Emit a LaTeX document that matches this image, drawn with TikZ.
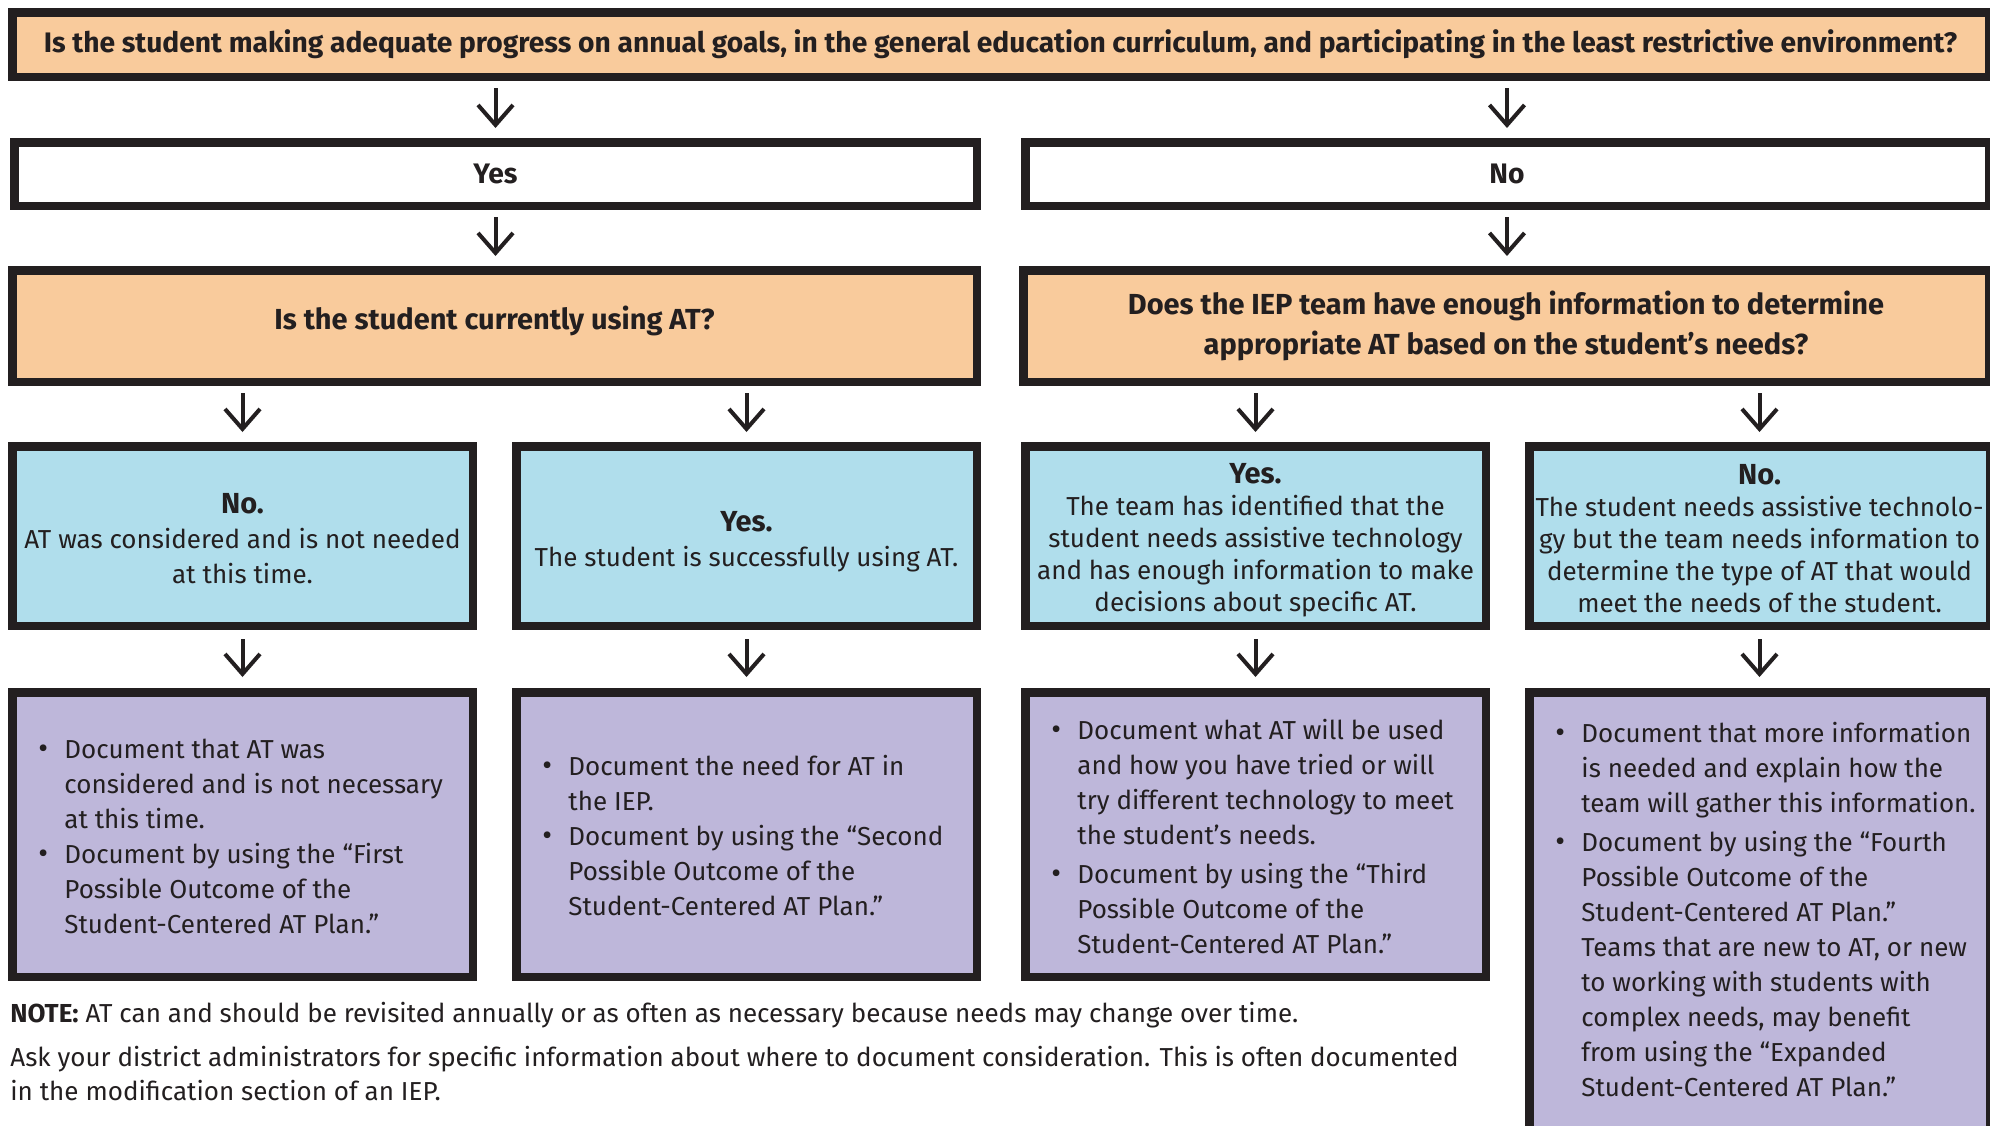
\documentclass[tikz,border=0pt]{standalone}
\usepackage{fontspec}
\setmainfont{Fira Sans}
\usetikzlibrary{arrows.meta}
\definecolor{peach}{HTML}{F9CB9C}
\definecolor{skyb}{HTML}{B0DEEC}
\definecolor{lav}{HTML}{BEB7DA}
\definecolor{ink}{HTML}{231F20}
\newcommand{\bul}{\makebox[13pt][l]{\fontsize{15pt}{15pt}\selectfont\textbullet}}
\newcommand{\hd}[1]{{\bfseries\fontsize{14.5pt}{17pt}\selectfont #1}}
\begin{document}
\begin{tikzpicture}[x=0.5pt,y=-0.5pt]
\tikzset{
  box/.style={draw=ink, line width=4.25pt, inner sep=0pt, align=center, text=ink},
  qbox/.style={box, fill=peach, font=\bfseries\fontsize{14.5pt}{20pt}\selectfont},
  ybox/.style={box, fill=white, font=\bfseries\fontsize{14.1pt}{20pt}\selectfont},
  bbox/.style={box, fill=skyb, minimum width=230.25pt, minimum height=89.75pt},
  btext/.style={inner sep=0pt, align=center, text=ink},
  pbox/.style={box, fill=lav, minimum width=230.25pt},
  ptext/.style={inner sep=0pt, anchor=west, align=left, text=ink, font=\fontsize{13pt}{17.5pt}\selectfont},
  arr/.style={draw=ink, line width=2pt, -{Straight Barb[length=10pt,width=17.5pt,line width=2pt]}},
  notetext/.style={inner sep=0pt, anchor=west, align=left, text=ink, font=\fontsize{13pt}{17pt}\selectfont}
}
\useasboundingbox (0,0) rectangle (1990,1125);
\fill[white] (0,0) rectangle (1990,1125);

\node[qbox, minimum width=988.25pt, minimum height=32.25pt, font=\bfseries\fontsize{14.1pt}{20pt}\selectfont] (top) at (1000.5,44.5)
  {Is the student making adequate progress on annual goals, in the general education curriculum, and participating in the least restrictive environment?};

\node[ybox, minimum width=481.25pt, minimum height=31.75pt] (yes) at (495.5,174) {Yes};
\node[ybox, minimum width=481.75pt, minimum height=31.75pt] (no) at (1507,174) {No};

\node[qbox, minimum width=482.25pt, minimum height=55.75pt] (ql) at (494.5,326) {};
\node[btext, font=\bfseries\fontsize{14.5pt}{20pt}\selectfont] (qlt) at ([yshift=2.5pt]ql.center)
  {Is the student currently using AT?};
\node[qbox, minimum width=482.75pt, minimum height=55.75pt] (qr) at (1506,326)
  {Does the IEP team have enough information to determine\\appropriate AT based on the student’s needs?};

\node[bbox] (b1) at (242.5,536) {};
\node[bbox] (b2) at (746.5,536) {};
\node[bbox] (b3) at (1255.5,536) {};
\node[bbox] (b4) at (1759.5,536) {};
\node[btext, font=\fontsize{13pt}{17.5pt}\selectfont] (b1t) at ([yshift=-1.5pt]b1.center)
  {\hd{No.}\\AT was considered and is not needed\\at this time.};
\node[btext, font=\fontsize{13pt}{17.5pt}\selectfont] (b2t) at ([yshift=-2.8pt]b2.center)
  {\hd{Yes.}\\The student is successfully using AT.};
\node[btext, font=\fontsize{13pt}{16pt}\selectfont] (b3t) at ([yshift=-2.2pt]b3.center)
  {\hd{Yes.}\\The team has identified that the\\student needs assistive technology\\and has enough information to make\\decisions about specific AT.};
\node[btext, font=\fontsize{13pt}{16pt}\selectfont] (b4t) at ([yshift=-1.3pt]b4.center)
  {\hd{No.}\\The student needs assistive technolo-\\gy but the team needs information to\\determine the type of AT that would\\meet the needs of the student.};

\node[pbox, minimum height=142.25pt] (p1) at (242.5,834.5) {};
\node[pbox, minimum height=142.25pt] (p2) at (746.5,834.5) {};
\node[pbox, minimum height=142.25pt] (p3) at (1255.5,834.5) {};
\node[pbox, minimum height=221.75pt] (p4) at (1759.5,914) {};

\node[ptext] (t1) at ([xshift=15pt,yshift=-2pt]p1.west) {%
\begin{tabular}{@{}l@{}l@{}}
\bul & Document that AT was\\
     & considered and is not necessary\\
     & at this time.\\
\bul & Document by using the “First\\
     & Possible Outcome of the\\
     & Student-Centered AT Plan.”
\end{tabular}};
\node[ptext] (t2) at ([xshift=15pt,yshift=-2pt]p2.west) {%
\begin{tabular}{@{}l@{}l@{}}
\bul & Document the need for AT in\\
     & the IEP.\\
\bul & Document by using the “Second\\
     & Possible Outcome of the\\
     & Student-Centered AT Plan.”
\end{tabular}};
\node[ptext] (t3) at ([xshift=15pt,yshift=-2.3pt]p3.west) {%
\begin{tabular}{@{}l@{}l@{}}
\bul & Document what AT will be used\\
     & and how you have tried or will\\
     & try different technology to meet\\
     & the student’s needs.\\[2pt]
\bul & Document by using the “Third\\
     & Possible Outcome of the\\
     & Student-Centered AT Plan.”
\end{tabular}};
\node[ptext] (t4) at ([xshift=15pt,yshift=1pt]p4.west) {%
\begin{tabular}{@{}l@{}l@{}}
\bul & Document that more information\\
     & is needed and explain how the\\
     & team will gather this information.\\[2pt]
\bul & Document by using the “Fourth\\
     & Possible Outcome of the\\
     & Student-Centered AT Plan.”\\
     & Teams that are new to AT, or new\\
     & to working with students with\\
     & complex needs, may benefit\\
     & from using the “Expanded\\
     & Student-Centered AT Plan.”
\end{tabular}};

\draw[arr, shorten <=3.5pt, shorten >=5pt] (top.south -| yes.north) -- (yes.north);
\draw[arr, shorten <=3.5pt, shorten >=5pt] (top.south -| no.north) -- (no.north);
\draw[arr, shorten <=3.5pt, shorten >=5pt] (yes.south) -- (yes.south |- ql.north);
\draw[arr, shorten <=3.5pt, shorten >=5pt] (no.south) -- (no.south |- qr.north);
\draw[arr, shorten <=3.5pt, shorten >=5pt] (ql.south -| b1.north) -- (b1.north);
\draw[arr, shorten <=3.5pt, shorten >=5pt] (ql.south -| b2.north) -- (b2.north);
\draw[arr, shorten <=3.5pt, shorten >=5pt] (qr.south -| b3.north) -- (b3.north);
\draw[arr, shorten <=3.5pt, shorten >=5pt] (qr.south -| b4.north) -- (b4.north);
\draw[arr, shorten <=4.5pt, shorten >=5.5pt] (b1.south) -- (p1.north);
\draw[arr, shorten <=4.5pt, shorten >=5.5pt] (b2.south) -- (p2.north);
\draw[arr, shorten <=4.5pt, shorten >=5.5pt] (b3.south) -- (p3.north);
\draw[arr, shorten <=4.5pt, shorten >=5.5pt] (b4.south) -- (p4.north);

\node[notetext] (note1) at (10,1015)
  {\textbf{NOTE:} AT can and should be revisited annually or as often as necessary because needs may change over time.};
\node[notetext] (note2) at (10,1073)
  {Ask your district administrators for specific information about where to document consideration. This is often documented\\in the modification section of an IEP.};
\end{tikzpicture}
\end{document}
